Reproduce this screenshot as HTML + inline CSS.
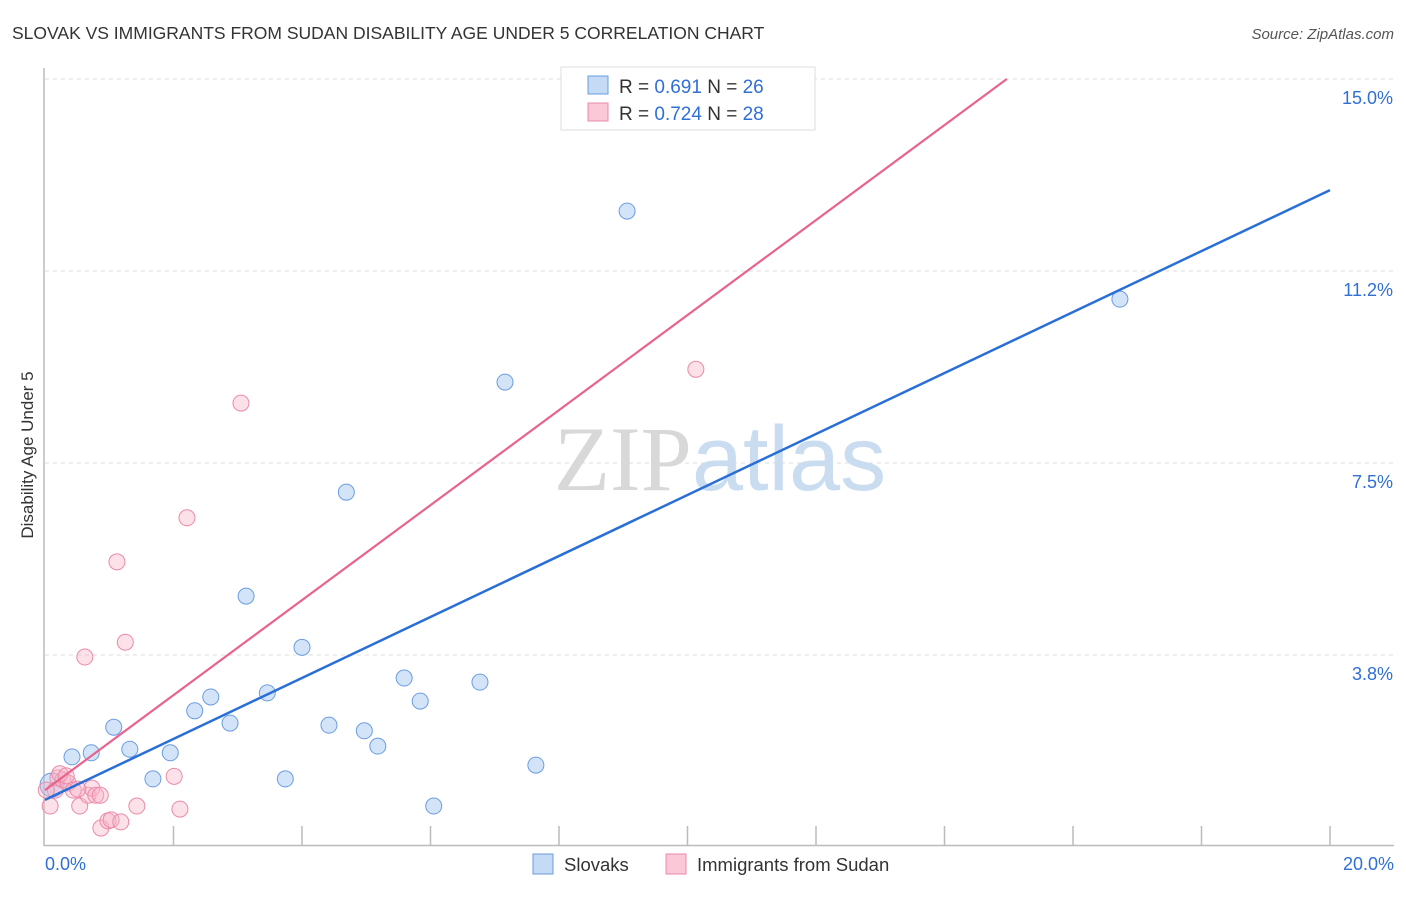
<!DOCTYPE html>
<html><head><meta charset="utf-8"><style>
body{margin:0;background:#fff;font-family:"Liberation Sans",sans-serif;}
svg text{font-family:"Liberation Sans",sans-serif;}
</style></head><body>
<svg id="chart" width="1406" height="892" xmlns="http://www.w3.org/2000/svg">
<text x="12" y="39" font-size="17.5" fill="#333">SLOVAK VS IMMIGRANTS FROM SUDAN DISABILITY AGE UNDER 5 CORRELATION CHART</text>
<text x="1394" y="39" font-size="15" fill="#555" text-anchor="end" font-style="italic">Source: ZipAtlas.com</text>
<g id="grid"></g>
<text x="720" y="490" font-size="92" text-anchor="middle"><tspan fill="#d8d8d8" font-family="Liberation Serif">ZIP</tspan><tspan fill="#c9dcf0">atlas</tspan></text>
<line x1="44" y1="68" x2="44" y2="846" stroke="#bbb" stroke-width="1.5"/>
<line x1="44" y1="845.5" x2="1394" y2="845.5" stroke="#bbb" stroke-width="1.5"/>
<text transform="translate(33,455) rotate(-90)" font-size="17" fill="#333" text-anchor="middle">Disability Age Under 5</text>
<g id="marks"></g>
<g>
<rect x="561" y="67" width="254" height="63" fill="#fff" stroke="#ddd"/>
<rect x="588" y="76" width="20" height="18" fill="#c5daf5" stroke="#6a9de0"/>
<rect x="588" y="103" width="20" height="18" fill="#fac8d6" stroke="#eb8aa8"/>
<text x="619" y="93" font-size="19" fill="#333">R = <tspan fill="#2f6fd6">0.691</tspan>   N = <tspan fill="#2f6fd6">26</tspan></text>
<text x="619" y="120" font-size="19" fill="#333">R = <tspan fill="#2f6fd6">0.724</tspan>   N = <tspan fill="#2f6fd6">28</tspan></text>
</g>
<g>
<rect x="533" y="854" width="20" height="20" fill="#c5daf5" stroke="#6a9de0"/>
<text x="564" y="871" font-size="18.5" fill="#333">Slovaks</text>
<rect x="666" y="854" width="20" height="20" fill="#fac8d6" stroke="#eb8aa8"/>
<text x="697" y="871" font-size="18.5" fill="#333">Immigrants from Sudan</text>
</g>
</svg>
<script>
const xTicks=[0,2,4,6,8,10,12,14,16,18,20];
const yTickVals=[3.75,7.5,11.25,15];
const yTickLabels=["3.8%","7.5%","11.2%","15.0%"];
const slovakX=[0.11,0.42,0.72,1.07,1.32,1.68,1.95,2.33,2.58,2.88,3.13,3.46,3.74,4.0,4.42,4.69,4.97,5.18,5.59,5.84,6.05,6.77,7.16,7.64,9.06,16.73];
const slovakY=[1.21,1.76,1.84,2.34,1.91,1.33,1.84,2.66,2.93,2.42,4.9,3.01,1.33,3.9,2.38,6.93,2.27,1.97,3.3,2.85,0.80,3.22,9.08,1.60,12.42,10.7];
const sudanX=[0.08,0.16,0.2,0.28,0.36,0.44,0.54,0.62,0.67,0.73,0.79,0.87,0.98,1.03,1.12,1.18,1.25,1.43,2.01,2.1,2.21,3.05,10.13,0.23,0.33,0.51,0.86,0.02];
const sudanY=[0.80,1.11,1.35,1.31,1.25,1.11,0.80,3.71,1.01,1.15,1.01,0.37,0.51,0.53,5.57,0.49,4.0,0.80,1.38,0.74,6.43,8.67,9.33,1.43,1.39,1.13,1.01,1.11];
const slovakLine=[0.92,12.83];   // y at x=0 and x=20
const sudanLine=[1.11,15.0/14.97*0+1.11];
const sudanSlope=(15.0-1.11)/14.97;
const X=v=>45+v/20*1285, Y=v=>847-v*51.2;
const NS="http://www.w3.org/2000/svg";
const grid=document.getElementById('grid'), marks=document.getElementById('marks');
function mk(tag,attrs,parent){const e=document.createElementNS(NS,tag);for(const k in attrs)e.setAttribute(k,attrs[k]);parent.appendChild(e);return e;}
yTickVals.forEach((v,i)=>{
 const l=mk('line',{x1:45,x2:1394,y1:Y(v),y2:Y(v),stroke:'#ddd','stroke-dasharray':'4,4'},grid);
 
 
 const t=mk('text',{x:1393,y:Y(v)+25,'font-size':18,fill:'#2f6fd6','text-anchor':'end'},grid);
 t.textContent=yTickLabels[i];
 
 
});
xTicks.forEach(v=>{
 if(v===0)return;
 const l=mk('line',{x1:X(v),x2:X(v),y1:826,y2:845,stroke:'#bbb','stroke-width':1.5},grid);
 
 
});
[[0,'0.0%','start',45],[20,'20.0%','end',1394]].forEach(a=>{
 const t=mk('text',{x:a[3],y:870,'font-size':18,fill:'#2f6fd6','text-anchor':a[2]},grid);
 t.textContent=a[1];
 
 
});
slovakX.forEach((x,i)=>{
 const c=mk('circle',{cx:X(x),cy:Y(slovakY[i]),r:i===0?12:8,fill:'rgba(160,195,240,0.45)',stroke:'#6a9de0','stroke-width':1},marks);
 
 
});
sudanX.forEach((x,i)=>{
 const c=mk('circle',{cx:X(x),cy:Y(sudanY[i]),r:8,fill:'rgba(248,180,200,0.4)',stroke:'#eb8aa8','stroke-width':1},marks);
 
 
});
const bl=mk('line',{x1:X(0),y1:Y(slovakLine[0]),x2:X(20),y2:Y(slovakLine[1]),stroke:'#2a6fd6','stroke-width':2.5},marks);


const xEnd=(15-sudanLine[0])/sudanSlope;
const pl=mk('line',{x1:X(0),y1:Y(sudanLine[0]),x2:X(xEnd),y2:Y(15),stroke:'#e8638d','stroke-width':2.2},marks);


</script>
</body></html>
